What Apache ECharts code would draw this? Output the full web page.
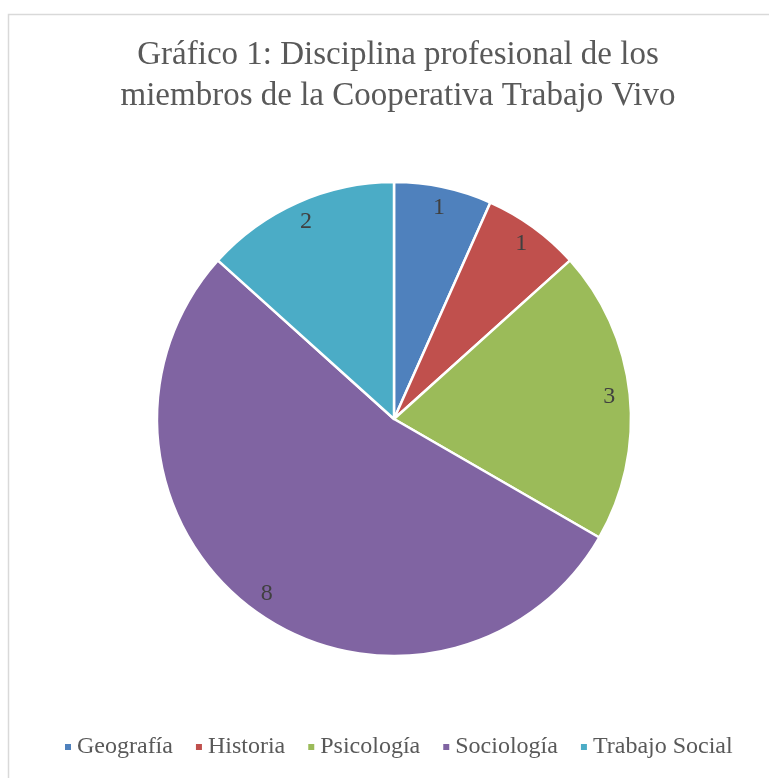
<!DOCTYPE html>
<html>
<head>
<meta charset="utf-8">
<script src="https://cdn.jsdelivr.net/npm/echarts@6/dist/echarts.min.js"></script>
<style>
  html, body { margin: 0; padding: 0; background: #fff; }
  #main { width: 769px; height: 778px; }
</style>
</head>
<body>
<div id="main"></div>
<script>
// datos del gráfico
var disciplinas = ["Geografía", "Historia", "Psicología", "Sociología", "Trabajo Social"];
var miembros = [1, 1, 3, 8, 2];
var colores = ["#4F81BD", "#C0504D", "#9BBB59", "#8064A2", "#4BACC6"];

var datos = disciplinas.map(function (d, i) {
  return { name: d, value: miembros[i], itemStyle: { color: colores[i] } };
});

var fuente = "Liberation Serif";
var myChart = echarts.init(document.getElementById("main"));
myChart.setOption({
  animation: false,
  title: {
    text: "Gráfico 1: Disciplina profesional de los\nmiembros de la Cooperativa Trabajo Vivo",
    left: 393,
    textAlign: "center",
    top: 30,
    textStyle: {
      fontFamily: fuente,
      fontWeight: "normal",
      fontSize: 33,
      lineHeight: 41,
      color: "#595959"
    }
  },
  legend: {
    bottom: 14,
    left: 58,
    itemWidth: 8,
    itemHeight: 8,
    itemGap: 21,
    icon: "rect",
    textStyle: { fontFamily: fuente, fontSize: 24, color: "#595959" },
    data: disciplinas
  },
  graphic: [{
    type: "rect",
    shape: { x: 8.5, y: 14.5, width: 800, height: 800 },
    style: { fill: "none", stroke: "#d9d9d9", lineWidth: 1.5 },
    silent: true,
    z: -1
  }],
  series: [
    {
      type: "pie",
      center: [394, 419],
      radius: [0, 237],
      startAngle: 90,
      clockwise: true,
      label: { show: false },
      labelLine: { show: false },
      itemStyle: { borderColor: "#fff", borderWidth: 2.5 },
      data: datos
    },
    {
      // etiquetas cerca del borde
      type: "pie",
      silent: true,
      center: [394, 419],
      radius: [190, 237],
      startAngle: 90,
      clockwise: true,
      itemStyle: { color: "transparent" },
      label: {
        show: true,
        position: "inside",
        formatter: "{c}",
        fontFamily: fuente,
        fontSize: 24,
        color: "#404040"
      },
      labelLine: { show: false },
      data: disciplinas.map(function (d, i) {
        return { name: d, value: miembros[i] };
      })
    }
  ]
});
</script>
</body>
</html>
